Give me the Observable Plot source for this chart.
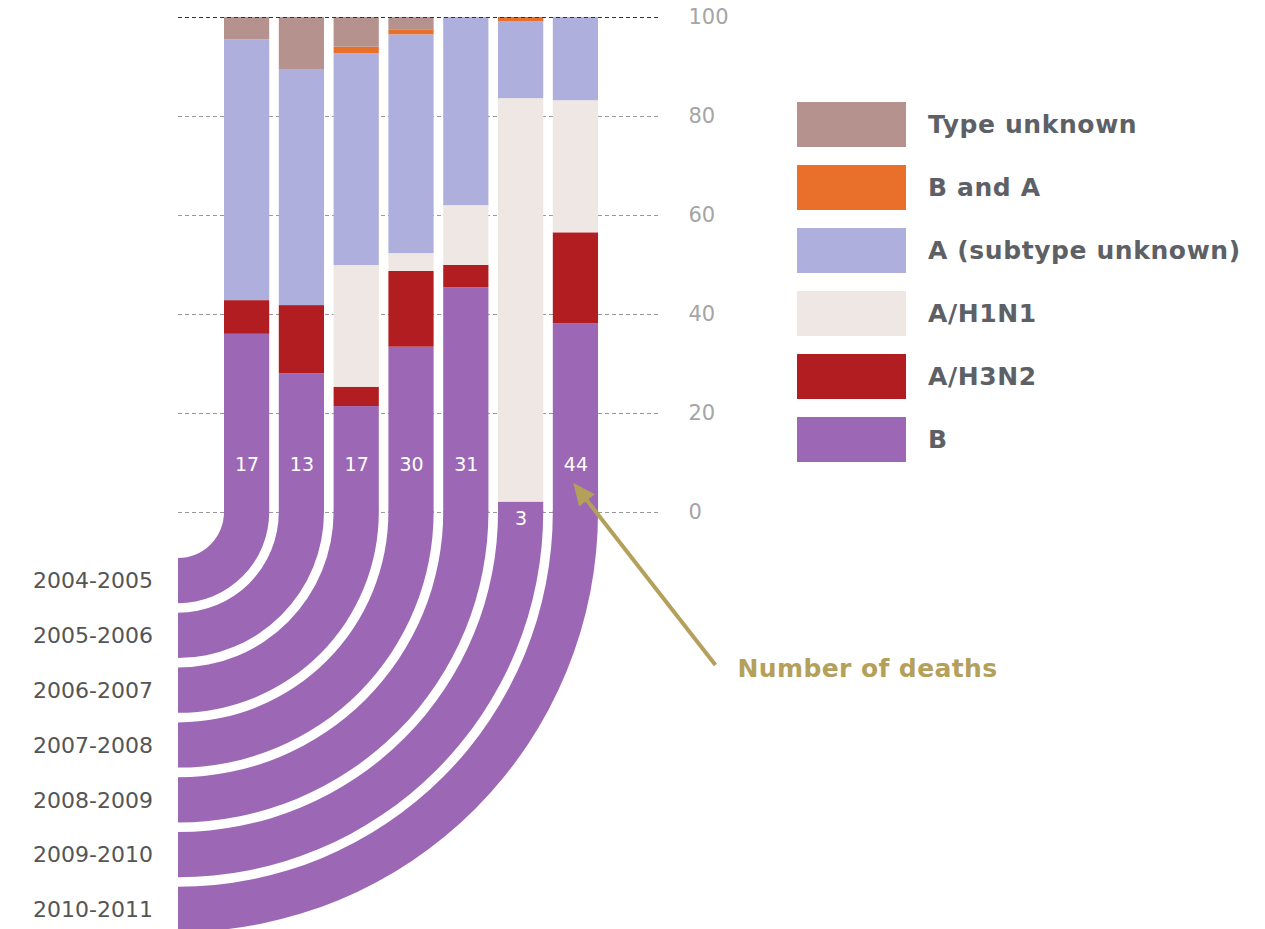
<!DOCTYPE html>
<html>
<head>
<meta charset="utf-8">
<script src="https://cdn.jsdelivr.net/npm/d3@7"></script>
<script src="https://cdn.jsdelivr.net/npm/@observablehq/plot@0.6"></script>
<style>
  body { margin: 0; background: #fff; }
  #chart { position: relative; width: 1265px; height: 929px; }
  #legend { position: absolute; left: 797px; top: 102px; font-family: "DejaVu Sans", sans-serif; font-weight: bold; font-size: 25px; letter-spacing: 0.6px; color: #5d6166; }
  .row { display: flex; align-items: center; height: 45px; margin-bottom: 18px; }
  .sw { width: 109px; height: 45px; margin-right: 22px; }
</style>
</head>
<body>
<div id="chart"><div id="legend"></div></div>
<script>
// Influenza seasons
const seasons = ["2004-2005", "2005-2006", "2006-2007", "2007-2008", "2008-2009", "2009-2010", "2010-2011"];

// Virus types, stacked from the bottom up
const types = ["B", "A/H3N2", "A/H1N1", "A (subtype unknown)", "B and A", "Type unknown"];
const typeColors = ["#9c68b5", "#b21d22", "#eee7e3", "#aeafdc", "#e8702a", "#b5928d"];

// Share of deaths by virus type (%), one value per season
const shareB        = [36.0, 28.0, 21.4, 33.4, 45.4,  2.1, 38.1];
const shareH3N2     = [ 6.8, 13.8,  3.9, 15.3,  4.5,  0.0, 18.4];
const shareH1N1     = [ 0.0,  0.0, 24.6,  3.6, 12.1, 81.5, 26.7];
const shareAUnknown = [52.7, 47.7, 42.8, 44.2, 38.0, 15.5, 16.8];
const shareBandA    = [ 0.0,  0.0,  1.3,  0.9,  0.0,  0.9,  0.0];
const shareUnknown  = [ 4.5, 10.5,  6.0,  2.6,  0.0,  0.0,  0.0];

// Number of deaths per season
const deaths = [17, 13, 17, 30, 31, 3, 44];

const yTicks = [0, 20, 40, 60, 80, 100];

// Tidy table for the stacked bars
const shares = [shareB, shareH3N2, shareH1N1, shareAUnknown, shareBandA, shareUnknown];
const rows = [];
types.forEach((t, k) => seasons.forEach((s, i) => rows.push({season: s, type: t, value: shares[k][i]})));
const deathRows = seasons.map((s, i) => ({season: s, deaths: deaths[i], b: shareB[i]}));

// Each season's B band bends down-left into a quarter ring ending at its label
function seasonRings(index, scales, values, dimensions) {
  const x = scales.x, y = scales.y;
  const bw = x.bandwidth();
  const cx = dimensions.marginLeft, cy = y(0);
  const arc = d3.arc();
  const g = d3.create("svg:g");
  seasons.forEach((s) => {
    const r0 = x(s) - cx, r1 = r0 + bw;
    g.append("path")
      .attr("transform", `translate(${cx},${cy})`)
      .attr("fill", typeColors[0])
      .attr("d", arc({innerRadius: r0, outerRadius: r1, startAngle: Math.PI / 2 - 0.004, endAngle: Math.PI}));
    g.append("text")
      .attr("x", cx - 25)
      .attr("y", cy + (r0 + r1) / 2)
      .attr("dy", "0.35em")
      .attr("text-anchor", "end")
      .attr("fill", "#555")
      .attr("font-size", 22)
      .text(s);
  });
  return g.node();
}

// Callout pointing at the death count of the last season
function deathsNote(index, scales, values, dimensions) {
  const x = scales.x, y = scales.y;
  const bw = x.bandwidth();
  const last = seasons[seasons.length - 1];
  const tip = [x(last) + bw / 2 - 2, y(0) - 29];
  const tail = [tip[0] + 142, tip[1] + 182];
  const dx = tip[0] - tail[0], dy = tip[1] - tail[1];
  const len = Math.hypot(dx, dy);
  const ux = dx / len, uy = dy / len, nx = -uy, ny = ux;
  const L = 22, W = 10;
  const col = "#b4a05b";
  const g = d3.create("svg:g");
  g.append("line")
    .attr("x1", tail[0]).attr("y1", tail[1])
    .attr("x2", tip[0] - ux * L * 0.7).attr("y2", tip[1] - uy * L * 0.7)
    .attr("stroke", col).attr("stroke-width", 4);
  g.append("path")
    .attr("d", `M${tip[0]},${tip[1]}L${tip[0] - ux * L + nx * W},${tip[1] - uy * L + ny * W}L${tip[0] - ux * L - nx * W},${tip[1] - uy * L - ny * W}Z`)
    .attr("fill", col);
  g.append("text")
    .attr("x", tail[0] + 22).attr("y", tail[1] + 3)
    .attr("dy", "0.35em")
    .attr("text-anchor", "start")
    .attr("fill", col)
    .attr("font-size", 25)
    .attr("font-weight", "bold")
    .attr("letter-spacing", "0.4px")
    .text("Number of deaths");
  return g.node();
}

const chart = Plot.plot({
  width: 1265,
  height: 929,
  marginTop: 17,
  marginBottom: 417,
  marginLeft: 178,
  marginRight: 605,
  style: {fontFamily: "DejaVu Sans, sans-serif", background: "transparent"},
  x: {type: "band", domain: seasons, paddingInner: 0.175, paddingOuter: 0.985, align: 0.426, round: false, axis: null},
  y: {domain: [0, 100], axis: null},
  color: {domain: types, range: typeColors},
  marks: [
    Plot.ruleY(yTicks.filter((d) => d < 100), {stroke: "#999", strokeDasharray: "4,3"}),
    Plot.barY(rows, {x: "season", y: "value", fill: "type"}),
    Plot.ruleY(yTicks.filter((d) => d === 100), {stroke: "#333", strokeDasharray: "4,3"}),
    Plot.axisY({anchor: "right", ticks: yTicks, tickSize: 0, tickPadding: 28, fontSize: 21, color: "#a5a5a5", label: null}),
    seasonRings,
    Plot.text(deathRows.filter((d) => d.b >= 10), {x: "season", text: "deaths", frameAnchor: "bottom", dy: -42, fill: "#fff", fontSize: 19}),
    Plot.text(deathRows.filter((d) => d.b < 10), {x: "season", text: "deaths", frameAnchor: "bottom", dy: 12, fill: "#fff", fontSize: 19}),
    deathsNote
  ]
});

const holder = document.getElementById("chart");
holder.insertBefore(chart, holder.firstChild);
chart.style.position = "absolute";
chart.style.left = "0";
chart.style.top = "0";

// Legend, top entry first
const legend = d3.select("#legend");
types.slice().reverse().forEach((t) => {
  const row = legend.append("div").attr("class", "row");
  row.append("div").attr("class", "sw").style("background", typeColors[types.indexOf(t)]);
  row.append("span").text(t);
});
</script>
</body>
</html>
